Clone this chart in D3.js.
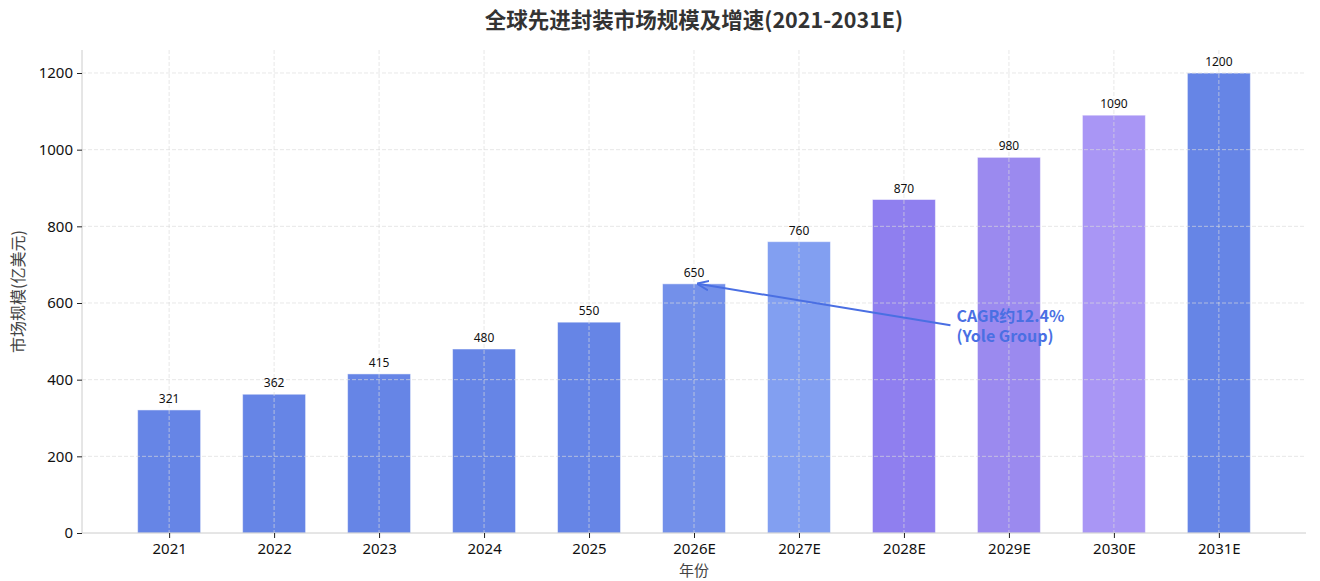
<!DOCTYPE html>
<html>
<head>
<meta charset="utf-8">
<script src="https://cdn.jsdelivr.net/npm/d3@7"></script>
<style>
  body { margin: 0; background: #fff; }
  svg { display: block; font-family: "Noto Sans CJK SC", "Noto Sans", sans-serif; }
</style>
</head>
<body>
<svg id="chart"></svg>
<script>
// chart data
const years = ["2021", "2022", "2023", "2024", "2025", "2026E", "2027E", "2028E", "2029E", "2030E", "2031E"];
const marketSize = [321, 362, 415, 480, 550, 650, 760, 870, 980, 1090, 1200];
const yTicks = [0, 200, 400, 600, 800, 1000, 1200];
const barColors = ["#6685e6", "#6685e6", "#6685e6", "#6685e6", "#6685e6", "#7390ea", "#829ff1", "#8f7fef", "#9b8aef", "#a996f5", "#6685e6"];

(() => {
    const width = 1320;
    const height = 581;
    const margin = { top: 50, right: 14, bottom: 48, left: 82 };
    const innerW = width - margin.left - margin.right;
    const innerH = height - margin.top - margin.bottom;

    const svg = d3.select("#chart")
        .attr("width", width)
        .attr("height", height);

    const g = svg.append("g")
        .attr("transform", `translate(${margin.left},${margin.top})`);

    // matplotlib-like limits: bars 0.6 wide, 5% margins
    const n = years.length;
    const pad = (n - 1 + 0.6) * 0.05 + 0.3;
    const x = d3.scaleLinear()
        .domain([-pad, n - 1 + pad])
        .range([0, innerW]);
    const y = d3.scaleLinear()
        .domain([0, 1260])
        .range([innerH, 0]);
    const barW = x(0.6) - x(0);

    // bars
    g.append("g")
        .selectAll("rect")
        .data(marketSize)
        .enter()
        .append("rect")
        .attr("x", (d, i) => x(i) - barW / 2)
        .attr("y", d => y(d))
        .attr("width", barW)
        .attr("height", d => innerH - y(d))
        .attr("fill", (d, i) => barColors[i])
        .attr("stroke", "rgba(255,255,255,0.5)")
        .attr("stroke-width", 1);

    // grid on top of bars
    const grid = g.append("g").attr("class", "grid");
    grid.selectAll(".hgrid")
        .data(yTicks.slice(1))
        .enter()
        .append("line")
        .attr("x1", 0)
        .attr("x2", innerW)
        .attr("y1", d => y(d))
        .attr("y2", d => y(d))
        .attr("stroke", "#dcdcdc")
        .attr("stroke-opacity", 0.65)
        .attr("stroke-dasharray", "4,2");
    grid.selectAll(".vgrid")
        .data(years)
        .enter()
        .append("line")
        .attr("x1", (d, i) => x(i))
        .attr("x2", (d, i) => x(i))
        .attr("y1", 0)
        .attr("y2", innerH)
        .attr("stroke", "#dcdcdc")
        .attr("stroke-opacity", 0.65)
        .attr("stroke-dasharray", "4,2");

    // value labels
    g.append("g")
        .selectAll("text")
        .data(marketSize)
        .enter()
        .append("text")
        .attr("x", (d, i) => x(i))
        .attr("y", d => y(d) - 7)
        .attr("text-anchor", "middle")
        .attr("font-size", "12px")
        .attr("font-family", "'Noto Sans', sans-serif")
        .attr("fill", "#111")
        .text(d => d);

    // axes
    const yAxis = g.append("g")
        .call(d3.axisLeft(y).tickValues(yTicks).tickFormat(d3.format("d")).tickSize(5).tickPadding(4))
        .attr("font-family", "'Noto Sans', sans-serif");
    yAxis.select(".domain").attr("stroke", "#cccccc").attr("d", `M0,0V${innerH}`);
    yAxis.selectAll(".tick line").attr("stroke", "#222");
    yAxis.selectAll(".tick text").attr("font-size", "15px").attr("fill", "#111");

    const xAxis = g.append("g")
        .attr("transform", `translate(0,${innerH})`)
        .call(d3.axisBottom(x).tickValues(d3.range(n)).tickFormat(i => years[i]).tickSize(5).tickPadding(5))
        .attr("font-family", "'Noto Sans', sans-serif");
    xAxis.select(".domain").attr("stroke", "#cccccc").attr("d", `M0,0H${innerW}`);
    xAxis.selectAll(".tick line").attr("stroke", "#222");
    xAxis.selectAll(".tick text").attr("font-size", "15px").attr("fill", "#111");

    // title and axis labels
    svg.append("text")
        .attr("x", margin.left + innerW / 2)
        .attr("y", 28)
        .attr("text-anchor", "middle")
        .attr("font-size", "21.5px")
        .attr("font-weight", "bold")
        .attr("fill", "#333")
        .text("全球先进封装市场规模及增速(2021-2031E)");

    svg.append("text")
        .attr("x", margin.left + innerW / 2)
        .attr("y", 576)
        .attr("text-anchor", "middle")
        .attr("font-size", "15px")
        .attr("fill", "#444")
        .text("年份");

    svg.append("text")
        .attr("transform", `translate(24,${margin.top + innerH / 2}) rotate(-90)`)
        .attr("text-anchor", "middle")
        .attr("font-size", "16px")
        .attr("fill", "#444")
        .text("市场规模(亿美元)");

    // CAGR annotation
    const annColor = "#4a6fe3";
    svg.append("defs").append("marker")
        .attr("id", "arrow")
        .attr("viewBox", "0 0 10 10")
        .attr("refX", 9)
        .attr("refY", 5)
        .attr("markerWidth", 6)
        .attr("markerHeight", 6)
        .attr("orient", "auto")
        .append("path")
        .attr("d", "M0,1L10,5L0,9")
        .attr("fill", "none")
        .attr("stroke", annColor)
        .attr("stroke-width", 1.6);

    const tx = x(7.5), ty = y(550);
    g.append("line")
        .attr("x1", tx - 6)
        .attr("y1", ty + 3)
        .attr("x2", x(5) + 4)
        .attr("y2", y(650))
        .attr("stroke", annColor)
        .attr("stroke-width", 2)
        .attr("marker-end", "url(#arrow)");

    g.append("text")
        .attr("x", tx)
        .attr("y", ty)
        .attr("font-size", "16px")
        .attr("font-weight", "bold")
        .attr("fill", annColor)
        .text("CAGR约12.4%");
    g.append("text")
        .attr("x", tx)
        .attr("y", ty + 20)
        .attr("font-size", "16px")
        .attr("font-weight", "bold")
        .attr("fill", annColor)
        .text("(Yole Group)");
})();
</script>
</body>
</html>
